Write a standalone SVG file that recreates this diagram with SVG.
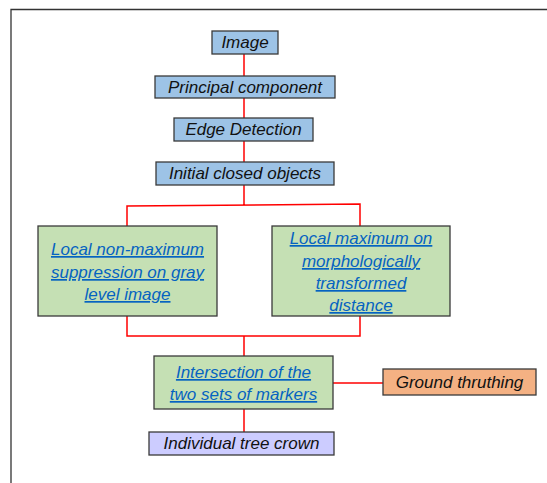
<svg xmlns="http://www.w3.org/2000/svg" width="547" height="483" viewBox="0 0 547 483">
<style>
.box{stroke:#3a3a3a;stroke-width:1.3}
.blue{fill:#9DC3E6}
.green{fill:#C5E0B4}
.orange{fill:#F4B183}
.lav{fill:#CCCCFF}
text{font-family:"Liberation Sans",Arial,sans-serif;font-style:italic;font-size:17px;text-anchor:middle;fill:#111}
text.link{fill:#0563C1;text-decoration:underline}
.conn{stroke:#FF0000;stroke-width:1.5;fill:none}
.frame{stroke:#333;stroke-width:1.3;fill:none}
</style>
<rect width="547" height="483" fill="#fff"/>
<path class="frame" d="M11,483 V9.5 H547"/>
<g id="connectors">
<path class="conn" d="M244,54 V76"/>
<path class="conn" d="M244,98 V118"/>
<path class="conn" d="M244,141 V162"/>
<path class="conn" d="M244,185 V205 M127,226 V206 L360,204 V226"/>
<path class="conn" d="M127,316 V336 H360 V316 M244,336 V356"/>
<path class="conn" d="M333,383 H383"/>
<path class="conn" d="M244,409 V432"/>
</g>
<g id="image"><rect class="box blue" x="212" y="31" width="66" height="23"/><text x="245" y="48">Image</text></g>
<g id="principal"><rect class="box blue" x="155" y="76" width="180" height="22"/><text x="245" y="93">Principal component</text></g>
<g id="edge"><rect class="box blue" x="174" y="118" width="139" height="23"/><text x="243.5" y="135">Edge Detection</text></g>
<g id="initial"><rect class="box blue" x="156" y="162" width="178" height="23"/><text x="245" y="179">Initial closed objects</text></g>
<g id="nonmax"><rect class="box green" x="38" y="226" width="179" height="90"/>
<text class="link" x="127.5" y="255">Local non-maximum</text>
<text class="link" x="127.5" y="278">suppression on gray</text>
<text class="link" x="127.5" y="300">level image</text></g>
<g id="localmax"><rect class="box green" x="272" y="226" width="178" height="90"/>
<text class="link" x="361" y="244">Local maximum on</text>
<text class="link" x="361" y="267">morphologically</text>
<text class="link" x="361" y="289">transformed</text>
<text class="link" x="361" y="311">distance</text></g>
<g id="intersection"><rect class="box green" x="154" y="356" width="179" height="53"/>
<text class="link" x="243.5" y="378">Intersection of the</text>
<text class="link" x="243.5" y="400">two sets of markers</text></g>
<g id="ground"><rect class="box orange" x="383" y="369" width="153" height="26"/><text x="459.5" y="388">Ground thruthing</text></g>
<g id="crown"><rect class="box lav" x="149" y="432" width="185" height="23"/><text x="241.5" y="449">Individual tree crown</text></g>
</svg>
